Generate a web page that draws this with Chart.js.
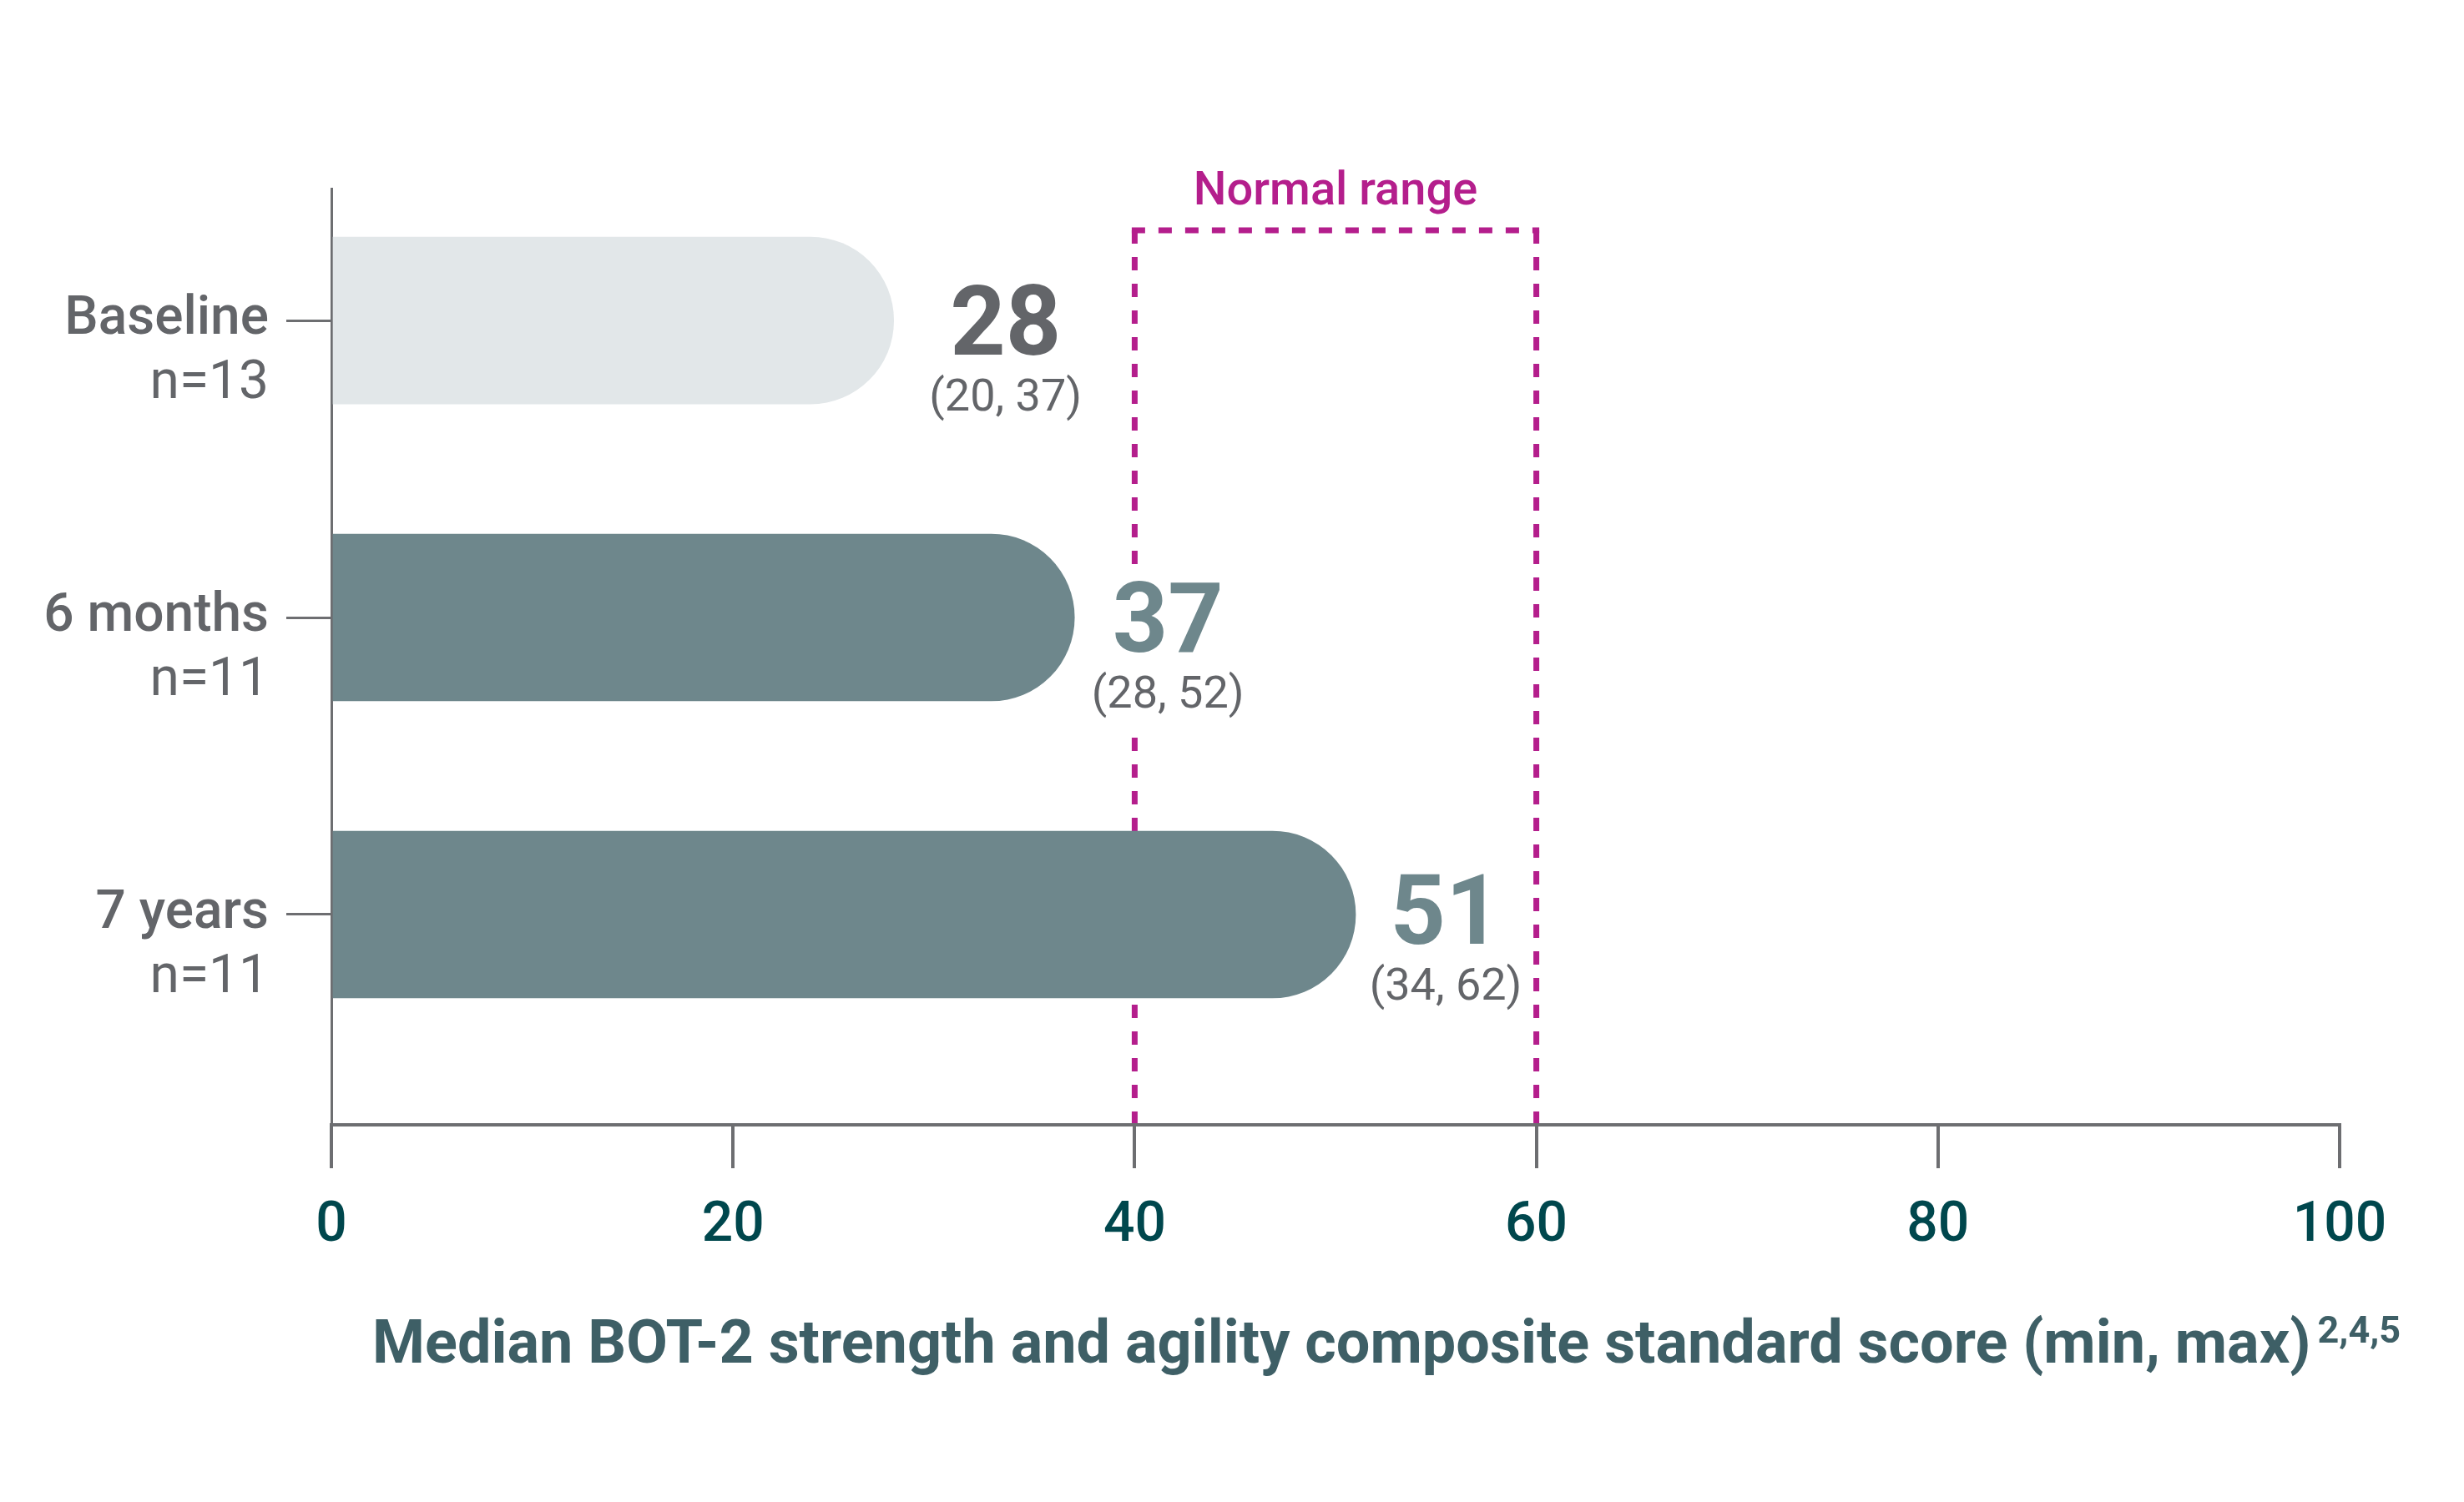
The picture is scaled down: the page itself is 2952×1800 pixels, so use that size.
<!DOCTYPE html>
<html>
<head>
<meta charset="utf-8">
<script src="https://cdn.jsdelivr.net/npm/chart.js@4.4.1/dist/chart.umd.min.js"></script>
<style>
  html, body { margin: 0; padding: 0; background: #ffffff; }
  #wrap { width: 2952px; height: 1800px; }
</style>
</head>
<body>
<div id="wrap"><canvas id="c" width="2952" height="1800"></canvas></div>
<script>
// ---- data ----
const categories = ['Baseline', '6 months', '7 years'];
const sampleSizes = ['n=13', 'n=11', 'n=11'];
const medians = [28, 37, 51];
const mins = [20, 28, 34];
const maxs = [37, 52, 62];
const xTicks = [0, 20, 40, 60, 80, 100];
const normalRange = [40, 60];
const normalLabel = 'Normal range';
const axisTitle = 'Median BOT-2 strength and agility composite standard score (min, max)';
const axisTitleSup = '2,4,5';

// ---- styles ----
const FONT = 'Roboto, "Noto Sans", sans-serif';
const GRAY = '#636569';
const AXIS = '#6d6e71';
const BAR_LIGHT = '#e2e7e9';
const BAR_DARK = '#6e878c';
const TEAL = '#00474d';
const TITLE = '#3e5f66';
const MAGENTA = '#b41e8c';
const barColors = [BAR_LIGHT, BAR_DARK, BAR_DARK];
const numColors = [GRAY, BAR_DARK, BAR_DARK];
const labelDx = [134, 112, 108];
const labelDy = [0, 0, -6];

const labelsPlugin = {
  id: 'customText',
  beforeDatasetsDraw(chart) {
    const { ctx, chartArea, scales } = chart;
    const x1 = scales.x.getPixelForValue(normalRange[0]);
    const x2 = scales.x.getPixelForValue(normalRange[1]);
    const top = chartArea.top + 50;
    const bottom = chartArea.bottom - 2;
    ctx.save();
    ctx.strokeStyle = MAGENTA;
    ctx.lineWidth = 7;
    ctx.setLineDash([16, 16]);
    ctx.lineCap = 'butt';
    ctx.beginPath();
    ctx.moveTo(x1, top);
    ctx.lineTo(x1, bottom);
    ctx.stroke();
    ctx.beginPath();
    ctx.moveTo(x2, top);
    ctx.lineTo(x2, bottom);
    ctx.stroke();
    ctx.beginPath();
    ctx.moveTo(x1 - 3.5, top);
    ctx.lineTo(x2 + 3.5, top);
    ctx.stroke();
    ctx.setLineDash([]);
    ctx.fillStyle = MAGENTA;
    ctx.font = '500 56px ' + FONT;
    ctx.textAlign = 'center';
    ctx.textBaseline = 'alphabetic';
    ctx.fillText(normalLabel, (x1 + x2) / 2, chartArea.top + 19);
    ctx.restore();
  },
  afterDatasetsDraw(chart) {
    const { ctx, scales } = chart;
    const meta = chart.getDatasetMeta(0);
    ctx.save();
    meta.data.forEach((el, i) => {
      const cx = el.x + labelDx[i];
      const cy = el.y + labelDy[i];
      const numText = String(medians[i]);
      const rangeText = '(' + mins[i] + ', ' + maxs[i] + ')';
      ctx.font = 'bold 116px ' + FONT;
      const w1 = ctx.measureText(numText).width;
      ctx.font = '400 54px ' + FONT;
      const w2 = ctx.measureText(rangeText).width;
      const w = Math.max(w1, w2);
      ctx.fillStyle = '#ffffff';
      ctx.fillRect(cx - w / 2, cy - 58, w, 188);
      ctx.textAlign = 'center';
      ctx.textBaseline = 'alphabetic';
      ctx.font = 'bold 116px ' + FONT;
      ctx.fillStyle = numColors[i];
      ctx.fillText(numText, cx, cy + 41);
      ctx.font = '400 54px ' + FONT;
      ctx.fillStyle = GRAY;
      ctx.fillText(rangeText, cx, cy + 108);
    });
    // y category labels
    const yScale = scales.y;
    ctx.textAlign = 'right';
    categories.forEach((cat, i) => {
      const y = yScale.getPixelForValue(i);
      ctx.fillStyle = GRAY;
      ctx.font = '500 64px ' + FONT;
      ctx.fillText(cat, 322, y + 16);
      ctx.font = '400 64px ' + FONT;
      ctx.fillText(sampleSizes[i], 322, y + 93);
    });
    // axis title
    ctx.textAlign = 'left';
    ctx.fillStyle = TITLE;
    ctx.font = 'bold 72px ' + FONT;
    const tx = 446;
    ctx.fillText(axisTitle, tx, 1633);
    const tw = ctx.measureText(axisTitle).width;
    ctx.font = 'bold 45px ' + FONT;
    ctx.fillText(axisTitleSup, tx + tw + 8, 1609);
    ctx.restore();
  }
};

const ctx = document.getElementById('c').getContext('2d');
new Chart(ctx, {
  type: 'bar',
  data: {
    datasets: [{
      data: medians.map((v, i) => ({ x: v, y: i })),
      backgroundColor: barColors,
      borderWidth: 0,
      borderRadius: 100,
      barThickness: 200
    }]
  },
  options: {
    indexAxis: 'y',
    responsive: false,
    animation: false,
    layout: { padding: { left: 0, top: 226, right: 149, bottom: 0 } },
    plugins: { legend: { display: false }, tooltip: { enabled: false }, title: { display: false } },
    scales: {
      x: {
        type: 'linear',
        min: 0,
        max: 100,
        afterBuildTicks: s => { s.ticks = xTicks.map(v => ({ value: v })); },
        afterFit: s => { s.height = 1800 - 1348; },
        grid: { drawOnChartArea: false, drawTicks: true, tickLength: 52, color: AXIS, lineWidth: 4 },
        border: { display: true, color: AXIS, width: 4 },
        ticks: { color: TEAL, font: { family: FONT, size: 66, weight: '500' }, padding: 31, maxRotation: 0 }
      },
      y: {
        type: 'linear',
        reverse: true,
        offset: false,
        min: -0.444,
        max: 2.708,
        afterBuildTicks: s => { s.ticks = categories.map((c, i) => ({ value: i })); },
        afterFit: s => { s.width = 397; },
        grid: { offset: false, drawOnChartArea: false, drawTicks: true, tickLength: 54, color: AXIS, lineWidth: 3 },
        border: { display: true, color: AXIS, width: 3 },
        ticks: { display: true, callback: () => '', padding: 0 }
      }
    }
  },
  plugins: [labelsPlugin]
});
</script>
</body>
</html>
